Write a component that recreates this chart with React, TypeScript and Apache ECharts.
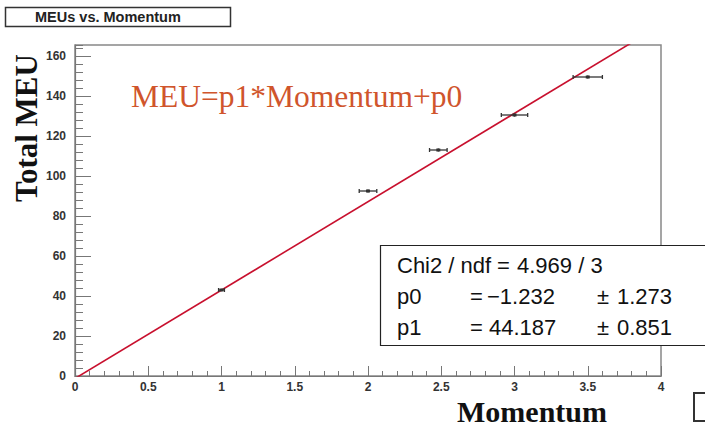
import React, { useEffect, useRef } from "react";
import * as echarts from "echarts";

// Measured points: momentum (x) with horizontal uncertainty, total MEU (y)
const momentum = [1, 2, 2.48, 3, 3.5];
const momentumErr = [0.02, 0.06, 0.06, 0.09, 0.1];
const meu = [43, 92.5, 113, 130.5, 149.5];
const meuErr = [0.6, 0.8, 0.8, 0.8, 0.8];

// Linear fit result MEU = p1*Momentum + p0
const p0 = -1.232;
const p0Err = 1.273;
const p1 = 44.187;
const p1Err = 0.851;
const chi2 = 4.969;
const ndf = 3;
const fitRange = [0, 4];

const xTickLabels = ["0", "0.5", "1", "1.5", "2", "2.5", "3", "3.5", "4"];

const serif = "'Liberation Serif', 'DejaVu Serif', serif";
const sans = "'Liberation Sans', Arial, sans-serif";

export default function App() {
  const ref = useRef<HTMLDivElement>(null);

  useEffect(() => {
    if (!ref.current) return;
    const chart = echarts.init(ref.current, null, { renderer: "svg" });

    const points = momentum.map((x, i) => [x, meu[i], momentumErr[i], meuErr[i]]);
    const fitLine = fitRange.map((x) => [x, p1 * x + p0]);

    const statsFont = `22px ${sans}`;
    const statsText = (text: string, x: number, y: number) => ({
      type: "text",
      x,
      y,
      style: { text, font: statsFont, fill: "#111", textVerticalAlign: "middle" },
      z: 101,
    });

    chart.setOption({
      animation: false,
      backgroundColor: "#fff",
      grid: {
        left: 75,
        top: 45,
        width: 586,
        height: 331,
        show: true,
        borderColor: "#888",
        borderWidth: 1.5,
        backgroundColor: "#fff",
      },
      xAxis: {
        type: "value",
        min: 0,
        max: 4,
        interval: 0.5,
        axisLine: { lineStyle: { color: "#777", width: 1.2 } },
        axisTick: { inside: true, length: 10, lineStyle: { color: "#777" } },
        minorTick: { show: true, splitNumber: 5, length: 5, lineStyle: { color: "#777" } },
        splitLine: { show: false },
        axisLabel: {
          margin: 5,
          color: "#333",
          fontWeight: "bold",
          fontSize: 12,
          fontFamily: sans,
          formatter: (v: number) => xTickLabels[Math.round(v / 0.5)] ?? "",
        },
      },
      yAxis: [
        {
          type: "value",
          min: 0,
          max: 165.5,
          interval: 20,
          axisLine: { show: true, lineStyle: { color: "#777", width: 1.2 } },
          axisTick: { show: true, inside: true, length: 16, lineStyle: { color: "#777" } },
          splitLine: { show: false },
          axisLabel: {
            margin: 9,
            showMaxLabel: false,
            color: "#333",
            fontWeight: "bold",
            fontSize: 12,
            fontFamily: sans,
            formatter: (v: number) => (v % 20 === 0 ? String(v) : ""),
          },
        },
        {
          type: "value",
          position: "left",
          min: 0,
          max: 165.5,
          interval: 4,
          axisLine: { show: false },
          axisTick: { show: true, inside: true, length: 8, lineStyle: { color: "#777" } },
          axisLabel: { show: false },
          splitLine: { show: false },
        },
      ],
      series: [
        {
          type: "line",
          data: fitLine,
          yAxisIndex: 0,
          showSymbol: false,
          clip: true,
          lineStyle: { color: "#c8102e", width: 1.6 },
          z: 3,
        },
        {
          type: "custom",
          yAxisIndex: 0,
          data: points,
          z: 4,
          renderItem: (params: any, api: any) => {
            const x = api.value(0);
            const y = api.value(1);
            const ex = api.value(2);
            const ey = api.value(3);
            const c = api.coord([x, y]);
            const l = api.coord([x - ex, y]);
            const r = api.coord([x + ex, y]);
            const t = api.coord([x, y + ey]);
            const b = api.coord([x, y - ey]);
            const style = { stroke: "#333", lineWidth: 1.3 };
            return {
              type: "group",
              children: [
                { type: "line", shape: { x1: l[0], y1: l[1], x2: r[0], y2: r[1] }, style },
                { type: "line", shape: { x1: l[0], y1: l[1] - 2, x2: l[0], y2: l[1] + 2 }, style },
                { type: "line", shape: { x1: r[0], y1: r[1] - 2, x2: r[0], y2: r[1] + 2 }, style },
                { type: "line", shape: { x1: t[0], y1: t[1], x2: b[0], y2: b[1] }, style },
                { type: "rect", shape: { x: c[0] - 2, y: c[1] - 1.5, width: 4, height: 3 }, style: { fill: "#333" } },
              ],
            };
          },
        },
      ],
      graphic: [
        // histogram title box
        {
          type: "rect",
          shape: { x: 5.5, y: 7.5, width: 225, height: 19 },
          style: { fill: "#fff", stroke: "#333", lineWidth: 1.5 },
          z: 100,
        },
        {
          type: "text",
          x: 35,
          y: 17,
          style: {
            text: "MEUs vs. Momentum",
            font: `bold 14.5px ${sans}`,
            fill: "#222",
            textVerticalAlign: "middle",
          },
          z: 101,
        },
        // axis titles
        {
          type: "text",
          x: 26,
          y: 128,
          rotation: Math.PI / 2,
          style: {
            text: "Total MEU",
            font: `bold 31px ${serif}`,
            fill: "#111",
            textAlign: "center",
            textVerticalAlign: "middle",
          },
          z: 100,
        },
        {
          type: "text",
          x: 607,
          y: 411,
          style: {
            text: "Momentum",
            font: `bold 30px ${serif}`,
            fill: "#111",
            textAlign: "right",
            textVerticalAlign: "middle",
          },
          z: 100,
        },
        // fit formula
        {
          type: "text",
          x: 131,
          y: 96,
          style: {
            text: "MEU=p1*Momentum+p0",
            font: `31.5px ${serif}`,
            fill: "#d0552c",
            textVerticalAlign: "middle",
          },
          z: 100,
        },
        // fit statistics box
        {
          type: "rect",
          shape: { x: 380.5, y: 245.5, width: 340, height: 100 },
          style: { fill: "#fff", stroke: "#222", lineWidth: 1.2 },
          z: 100,
        },
        statsText("Chi2 / ndf", 397, 265),
        statsText("=", 497, 265),
        statsText(`${chi2.toFixed(3)} / ${ndf}`, 517, 265),
        statsText("p0", 397, 296),
        statsText("=", 470, 296),
        statsText(`\u2212${Math.abs(p0).toFixed(3)}`, 487, 296),
        statsText("\u00b1", 597, 296),
        statsText(p0Err.toFixed(3), 617, 296),
        statsText("p1", 397, 327),
        statsText("=", 470, 327),
        statsText(p1.toFixed(3), 489, 327),
        statsText("\u00b1", 597, 327),
        statsText(p1Err.toFixed(3), 617, 327),
        // small box in the corner
        {
          type: "rect",
          shape: { x: 694, y: 393, width: 30, height: 28 },
          style: { fill: "#fff", stroke: "#333", lineWidth: 2 },
          z: 100,
        },
      ],
    });

    return () => chart.dispose();
  }, []);

  return (
    <div
      ref={ref}
      style={{ position: "fixed", left: 0, top: 0, width: 705, height: 427 }}
    />
  );
}
